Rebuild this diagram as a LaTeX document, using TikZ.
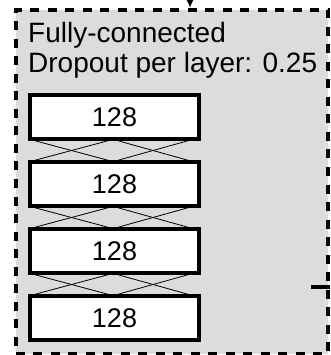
\documentclass[tikz,border=0pt]{standalone}
\usepackage{fontspec}
\setmainfont{Liberation Sans}
\usetikzlibrary{arrows.meta,calc,backgrounds}
\definecolor{panelgray}{RGB}{220,220,220}
\tikzset{
  x=1pt, y=-1pt,
  panel/.style={draw=black, fill=panelgray, line width=4pt,
    dash pattern=on 9pt off 8.5pt, rectangle, inner sep=0pt},
  layerbox/.style={draw=black, fill=white, line width=4pt, rectangle,
    minimum width=169pt, minimum height=43.5pt, inner sep=0pt,
    font=\fontsize{27}{30}\selectfont},
  caption/.style={anchor=base west, inner sep=0pt,
    font=\fontsize{28}{30}\selectfont},
  link/.style={draw=black, line width=0.8pt},
  feed/.style={draw=black, line width=2pt, -{Latex[length=8pt,width=7pt]}},
  stub/.style={draw=black, line width=4pt}
}
\begin{document}
\begin{tikzpicture}
\useasboundingbox (0,0) rectangle (330,355);

% caption
\node[caption] (cap1) at (28,43) {Fully-connected};
\node[caption] (cap2) at (28,73) {Dropout per layer: 0.25};

% stacked dense layers
\node[layerbox] (b1) at (114.5,117) {128};
\node[layerbox] (b2) at (114.5,184) {128};
\node[layerbox] (b3) at (114.5,251) {128};
\node[layerbox] (b4) at (114.5,318) {128};

\begin{scope}[on background layer]
  % dashed container
  \node[panel, minimum width=312.5pt, minimum height=343.5pt] (frame) at (171.75,181.75) {};
  % crossing links between consecutive layers
  \foreach \u/\v in {b1/b2, b2/b3, b3/b4} {
    \draw[link] ($(\u.south west)+(7,0)$) -- ($(\v.north west)+(80,0)$);
    \draw[link] ($(\u.south west)+(80,0)$) -- ($(\v.north west)+(7,0)$);
    \draw[link] ($(\u.south west)+(90,0)$) -- ($(\v.north west)+(160,0)$);
    \draw[link] ($(\u.south west)+(160,0)$) -- ($(\v.north west)+(90,0)$);
  }
\end{scope}

% incoming arrow from above and connector at the right side
\coordinate (src) at (190,0);
\draw[feed] (src) -- (src |- frame.north);
\coordinate (side) at (311,287);
\coordinate (sideout) at (330,287);
\draw[stub] (side) -- (sideout);
\end{tikzpicture}
\end{document}
